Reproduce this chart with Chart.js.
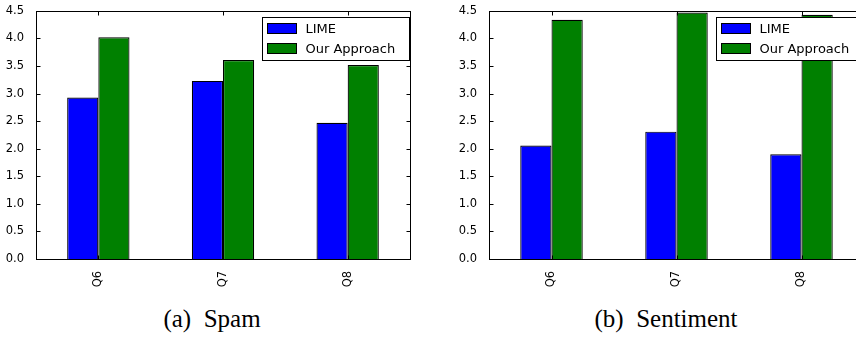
<!DOCTYPE html>
<html>
<head>
<meta charset="utf-8">
<script src="https://cdn.jsdelivr.net/npm/chart.js@4"></script>
<style>
  html, body { margin: 0; padding: 0; background: #fff; }
  body { width: 856px; height: 337px; overflow: hidden; position: relative; }
  canvas { position: absolute; top: 0; }
  #spamChart { left: 0; }
  #sentChart { left: 453px; }
  .caption {
    position: absolute; top: 305px; width: 300px; margin-left: -150px;
    text-align: center; white-space: pre;
    font-family: "Liberation Serif", "Times New Roman", serif; font-size: 25px; color: #000;
  }
</style>
</head>
<body>
<canvas id="spamChart" width="420" height="290"></canvas>
<canvas id="sentChart" width="420" height="290"></canvas>
<div class="caption" style="left:212px">(a)  Spam</div>
<div class="caption" style="left:666px">(b)  Sentiment</div>

<script>
// data
const questions = ["Q6", "Q7", "Q8"];
const seriesNames = ["LIME", "Our Approach"];
const spamLime = [2.93, 3.23, 2.47];
const spamOurs = [4.02, 3.61, 3.52];
const sentLime = [2.06, 2.31, 1.90];
const sentOurs = [4.34, 4.47, 4.43];
const yTicks = [0, 0.5, 1, 1.5, 2, 2.5, 3, 3.5, 4, 4.5];

const BLUE = "#0000ff";
const GREEN = "#008000";
const tickFont = { family: "DejaVu Sans", size: 11.5 };

// frame, inward ticks on all four sides, and the matplotlib-style legend
const framePlugin = {
  id: "frame",
  afterDraw(chart) {
    const ctx = chart.ctx;
    const a = chart.chartArea;
    const xs = chart.scales.x, ys = chart.scales.y;
    const L = Math.round(a.left) + 0.5, R = Math.round(a.right) + 0.5;
    const T = Math.round(a.top) + 0.5, B = Math.round(a.bottom) + 0.5;
    ctx.save();
    ctx.strokeStyle = "#000";
    ctx.lineWidth = 1;
    ctx.strokeRect(L, T, R - L, B - T);

    ctx.beginPath();
    yTicks.forEach(v => {
      const y = Math.round(ys.getPixelForValue(v)) + 0.5;
      ctx.moveTo(L, y); ctx.lineTo(L + 4, y);
      ctx.moveTo(R, y); ctx.lineTo(R - 4, y);
    });
    questions.forEach((q, i) => {
      const x = Math.round(xs.getPixelForValue(i)) + 0.5;
      ctx.moveTo(x, T); ctx.lineTo(x, T + 4);
      ctx.moveTo(x, B); ctx.lineTo(x, B - 4);
    });
    ctx.stroke();

    // legend
    const bx = Math.round(a.right - 148) + 0.5;
    const by = Math.round(a.top + 6) + 0.5;
    ctx.fillStyle = "#fff";
    ctx.fillRect(bx, by, 147, 43);
    ctx.strokeRect(bx, by, 147, 43);
    ctx.font = "13px 'DejaVu Sans'";
    ctx.textBaseline = "middle";
    chart.data.datasets.forEach((ds, i) => {
      const cy = by + 11 + i * 20;
      ctx.fillStyle = ds.backgroundColor;
      ctx.fillRect(bx + 5, cy - 5, 29, 10);
      ctx.strokeRect(bx + 5, cy - 5, 29, 10);
      ctx.fillStyle = "#000";
      ctx.fillText(ds.label, bx + 43, cy + 1);
    });
    ctx.restore();
  }
};

function makeChart(id, lime, ours, padRight) {
  const ctx = document.getElementById(id).getContext("2d");
  return new Chart(ctx, {
    type: "bar",
    data: {
      labels: questions,
      datasets: [
        { label: seriesNames[0], data: lime, backgroundColor: BLUE },
        { label: seriesNames[1], data: ours, backgroundColor: GREEN }
      ]
    },
    options: {
      responsive: false,
      animation: false,
      devicePixelRatio: 1,
      layout: { padding: { top: 9, right: padRight, left: 0, bottom: 0 } },
      datasets: {
        bar: {
          barPercentage: 1,
          categoryPercentage: 0.5,
          borderWidth: 1.2,
          borderColor: "#000"
        }
      },
      scales: {
        x: {
          grid: { display: false },
          border: { display: false },
          ticks: { minRotation: 90, maxRotation: 90, padding: 4, color: "#000", font: tickFont },
          afterFit(scale) { scale.height = 31; }
        },
        y: {
          min: 0,
          max: 4.5,
          grid: { display: false },
          border: { display: false },
          ticks: {
            stepSize: 0.5,
            padding: 4,
            color: "#000",
            font: tickFont,
            callback: v => Number(v).toFixed(1)
          },
          afterFit(scale) { scale.width = 36; }
        }
      },
      plugins: {
        legend: { display: false },
        tooltip: { enabled: false }
      }
    },
    plugins: [framePlugin]
  });
}

makeChart("spamChart", spamLime, spamOurs, 10);
makeChart("sentChart", sentLime, sentOurs, 9);
</script>
</body>
</html>
